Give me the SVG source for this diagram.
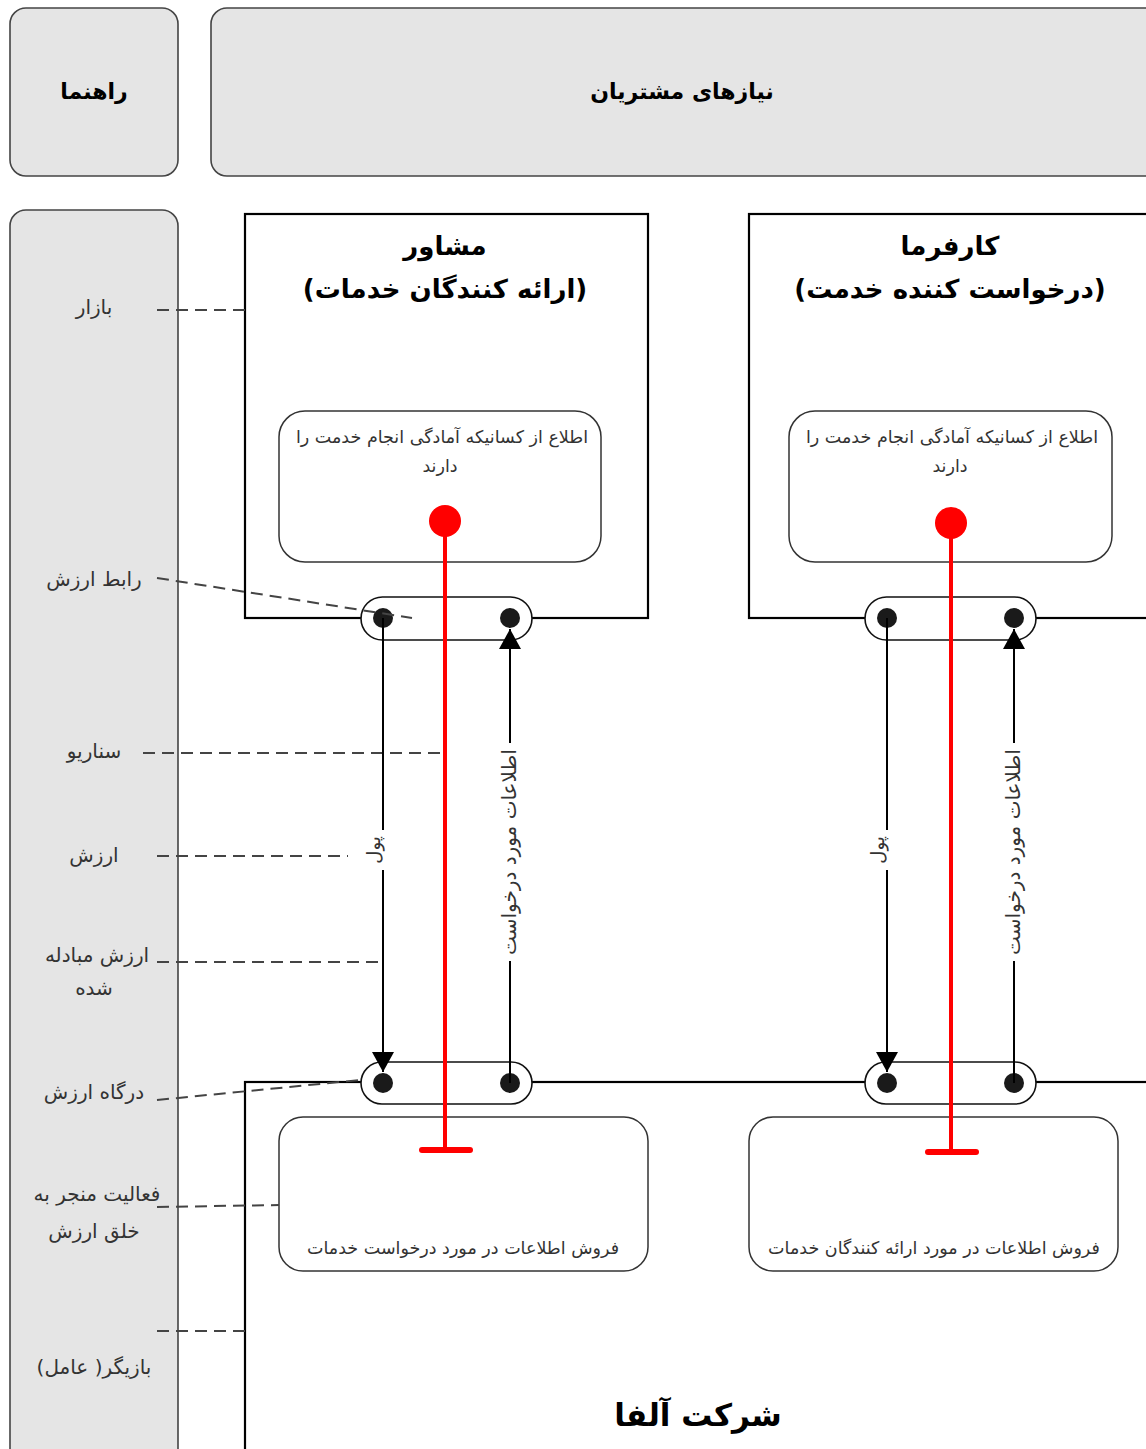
<svg xmlns="http://www.w3.org/2000/svg" width="1146" height="1449" viewBox="0 0 1146 1449">
<defs>
<style>
.hdr{fill:#e5e5e5;stroke:#444;stroke-width:1.6}
.actor{fill:#fff;stroke:#000;stroke-width:2.2}
.act{fill:#fff;stroke:#333;stroke-width:1.5}
.port{fill:#fff;stroke:#111;stroke-width:1.6}
.dot{fill:#1a1a1a}
.title{font-family:"DejaVu Sans",sans-serif;font-weight:bold;font-size:26px;fill:#000;text-anchor:middle}
.head{font-size:22px}
.lbl{font-family:"DejaVu Sans",sans-serif;font-size:20px;fill:#333;text-anchor:middle}
.small{font-family:"DejaVu Sans",sans-serif;font-size:17.5px;fill:#333;text-anchor:middle}
.flow{stroke:#000;stroke-width:2;fill:none}
.dash{stroke:#444;stroke-width:2;stroke-dasharray:12 7;fill:none}
.red{stroke:#f00;stroke-width:4;fill:none}
.redbar{stroke:#f00;stroke-width:6;stroke-linecap:round}
</style>
<marker id="ah" markerWidth="20" markerHeight="22" refX="20" refY="11" orient="auto" markerUnits="userSpaceOnUse">
<path d="M0,0 L20,11 L0,22 Z" fill="#000"/>
</marker>
</defs>
<rect width="1146" height="1449" fill="#fff"/>

<g id="guide-header">
<rect class="hdr" x="10" y="8" width="168" height="168" rx="16"/>
<text class="title head" x="94" y="99" direction="rtl">راهنما</text>
</g>
<g id="needs-header">
<rect class="hdr" x="211" y="8" width="960" height="168" rx="16"/>
<text class="title head" x="682" y="99" direction="rtl">نیازهای مشتریان</text>
</g>

<g id="legend">
<rect class="hdr" x="10" y="210" width="168" height="1260" rx="16"/>
<text class="lbl" x="94" y="314" direction="rtl">بازار</text>
<text class="lbl" x="94" y="586" direction="rtl">رابط ارزش</text>
<text class="lbl" x="94" y="758" direction="rtl">سناریو</text>
<text class="lbl" x="94" y="862" direction="rtl">ارزش</text>
<text class="lbl" x="97" y="962" direction="rtl">ارزش مبادله</text>
<text class="lbl" x="94" y="995" direction="rtl">شده</text>
<text class="lbl" x="94" y="1099" direction="rtl">درگاه ارزش</text>
<text class="lbl" x="97" y="1201" direction="rtl">فعالیت منجر به</text>
<text class="lbl" x="94" y="1238" direction="rtl">خلق ارزش</text>
<text class="lbl" x="94" y="1374" direction="rtl">بازیگر( عامل)</text>
</g>

<g id="actor-moshaver">
<rect class="actor" x="245" y="214" width="403" height="404"/>
<text class="title" x="445" y="255" direction="rtl">مشاور</text>
<text class="title" x="445" y="298" direction="rtl">(ارائه کنندگان خدمات)</text>
</g>
<g id="actor-karfarma">
<rect class="actor" x="749" y="214" width="420" height="404"/>
<text class="title" x="950" y="255" direction="rtl">کارفرما</text>
<text class="title" x="950" y="298" direction="rtl">(درخواست کننده خدمت)</text>
</g>

<g id="actor-alpha">
<rect class="actor" x="245" y="1082" width="930" height="400"/>
<text class="title" x="698" y="1426" style="font-size:31px" direction="rtl">شرکت آلفا</text>
</g>

<g id="need-1">
<rect class="act" x="279" y="411" width="322" height="151" rx="26"/>
<text class="small" x="442" y="443" direction="rtl">اطلاع از کسانیکه آمادگی انجام خدمت را</text>
<text class="small" x="440" y="472" direction="rtl">دارند</text>
</g>
<g id="need-2">
<rect class="act" x="789" y="411" width="323" height="151" rx="26"/>
<text class="small" x="952" y="443" direction="rtl">اطلاع از کسانیکه آمادگی انجام خدمت را</text>
<text class="small" x="950" y="472" direction="rtl">دارند</text>
</g>

<g id="activity-1">
<rect class="act" x="279" y="1117" width="369" height="154" rx="24"/>
<text class="small" x="463" y="1254" direction="rtl">فروش اطلاعات در مورد درخواست خدمات</text>
</g>
<g id="activity-2">
<rect class="act" x="749" y="1117" width="369" height="154" rx="24"/>
<text class="small" x="934" y="1254" direction="rtl">فروش اطلاعات در مورد ارائه کنندگان خدمات</text>
</g>

<g id="port-top-1">
<rect class="port" x="361" y="597" width="171" height="43" rx="21.5"/>
<circle class="dot" cx="383" cy="618" r="10"/>
<circle class="dot" cx="510" cy="618" r="10"/>
</g>
<g id="port-top-2">
<rect class="port" x="865" y="597" width="171" height="43" rx="21.5"/>
<circle class="dot" cx="887" cy="618" r="10"/>
<circle class="dot" cx="1014" cy="618" r="10"/>
</g>
<g id="port-bottom-1">
<rect class="port" x="361" y="1062" width="171" height="42" rx="21"/>
<circle class="dot" cx="383" cy="1083" r="10"/>
<circle class="dot" cx="510" cy="1083" r="10"/>
</g>
<g id="port-bottom-2">
<rect class="port" x="865" y="1062" width="171" height="42" rx="21"/>
<circle class="dot" cx="887" cy="1083" r="10"/>
<circle class="dot" cx="1014" cy="1083" r="10"/>
</g>

<g id="connectors">
<line class="dash" x1="157" y1="310" x2="245" y2="310"/>
<line class="dash" x1="157" y1="578" x2="412" y2="618"/>
<line class="dash" x1="143" y1="753" x2="445" y2="753"/>
<line class="dash" x1="157" y1="856" x2="348" y2="856"/>
<line class="dash" x1="157" y1="962" x2="383" y2="962"/>
<line class="dash" x1="157" y1="1100" x2="360" y2="1080"/>
<line class="dash" x1="157" y1="1207" x2="279" y2="1205"/>
<line class="dash" x1="157" y1="1331" x2="245" y2="1331"/>
</g>

<g id="value-flows">
<line class="flow" x1="383" y1="618" x2="383" y2="1072" marker-end="url(#ah)"/>
<line class="flow" x1="510" y1="1083" x2="510" y2="629" marker-end="url(#ah)"/>
<line class="flow" x1="887" y1="618" x2="887" y2="1072" marker-end="url(#ah)"/>
<line class="flow" x1="1014" y1="1083" x2="1014" y2="629" marker-end="url(#ah)"/>
<rect x="366" y="830" width="26" height="40" fill="#fff"/>
<text class="small" transform="translate(383 850) rotate(-90)" dy="-3" style="font-size:18px" direction="rtl">پول</text>
<rect x="870" y="830" width="26" height="40" fill="#fff"/>
<text class="small" transform="translate(887 850) rotate(-90)" dy="-3" style="font-size:18px" direction="rtl">پول</text>
<rect x="498" y="743" width="26" height="218" fill="#fff"/>
<text class="small" transform="translate(510 852) rotate(-90)" dy="6" style="font-size:20px" direction="rtl">اطلاعات مورد درخواست</text>
<rect x="1002" y="743" width="26" height="218" fill="#fff"/>
<text class="small" transform="translate(1014 852) rotate(-90)" dy="6" style="font-size:20px" direction="rtl">اطلاعات مورد درخواست</text>
</g>

<g id="scenario-1">
<line class="red" x1="445" y1="521" x2="445" y2="1150"/>
<line class="redbar" x1="422" y1="1150" x2="470" y2="1150"/>
<circle cx="445" cy="521" r="16" fill="#f00"/>
</g>
<g id="scenario-2">
<line class="red" x1="951" y1="523" x2="951" y2="1152"/>
<line class="redbar" x1="928" y1="1152" x2="976" y2="1152"/>
<circle cx="951" cy="523" r="16" fill="#f00"/>
</g>
</svg>
